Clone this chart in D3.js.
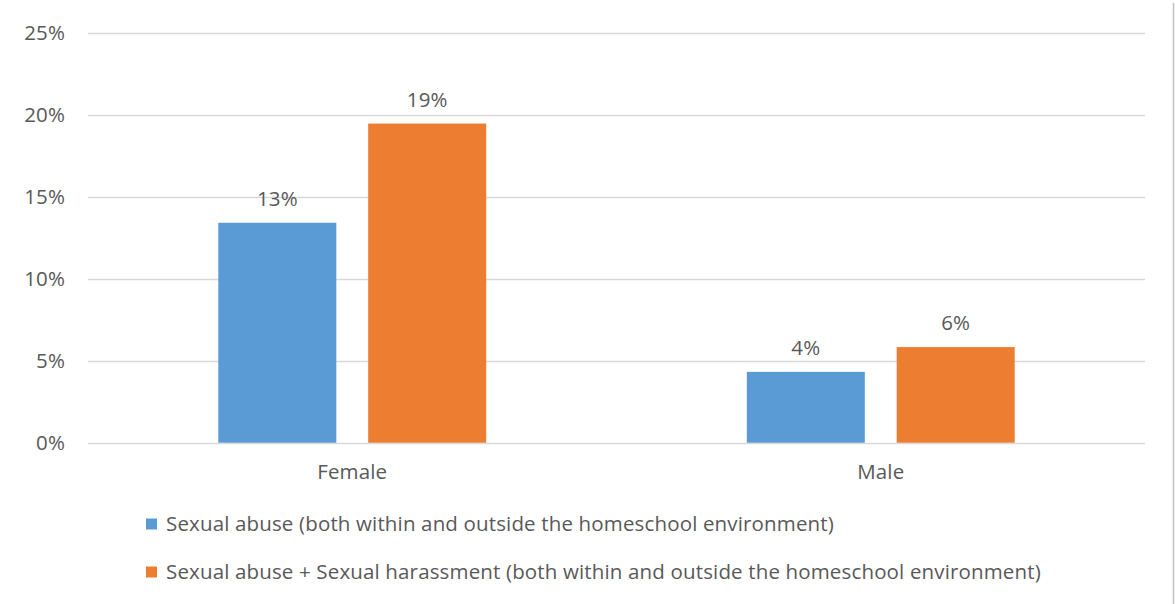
<!DOCTYPE html>
<html>
<head>
<meta charset="utf-8">
<script src="https://cdn.jsdelivr.net/npm/d3@7"></script>
<style>
  html, body { margin: 0; padding: 0; background: #ffffff; }
  svg { display: block; }
  svg text { font-family: "Open Sans", "Noto Sans", sans-serif; letter-spacing: 0.15px; }
</style>
</head>
<body>
<svg id="chart" width="1175" height="604"></svg>
<script>
// Categories and series
const categories = ["Female", "Male"];
const seriesNames = [
  "Sexual abuse (both within and outside the homeschool environment)",
  "Sexual abuse + Sexual harassment (both within and outside the homeschool environment)"
];
const sexualAbuse = [0.1341, 0.0432];
const abuseAndHarassment = [0.1946, 0.0583];
const yTicks = [0, 0.05, 0.10, 0.15, 0.20, 0.25];

const colors = ["#5B9BD5", "#ED7D31"];
const textColor = "#595959";
const fontSize = "20.5px";

const svg = d3.select("#chart");
const margin = { top: 33, left: 88, right: 30, bottom: 162 };
const W = 1175, H = 604;

const x = d3.scaleBand()
  .domain(categories)
  .range([margin.left, W - margin.right]);

const y = d3.scaleLinear()
  .domain([0, 0.25])
  .range([H - margin.bottom + 0.7, margin.top - 0.3]);

// Grouped bar layout inside each category band
const barW = x.bandwidth() * 0.2233;
const barGap = barW * 0.27;
const groupW = barW * 2 + barGap;

// Gridlines
svg.append("g")
  .selectAll("line")
  .data(yTicks)
  .join("line")
  .attr("x1", margin.left)
  .attr("x2", W - margin.right)
  .attr("y1", d => Math.round(y(d)) + 0.5)
  .attr("y2", d => Math.round(y(d)) + 0.5)
  .attr("stroke", "#D9D9D9")
  .attr("stroke-width", 1.3);

// Y axis labels
const yAxis = d3.axisLeft(y)
  .tickValues(yTicks)
  .tickFormat(d3.format(".0%"))
  .tickSize(0)
  .tickPadding(0);
const yg = svg.append("g")
  .attr("transform", `translate(65,0)`)
  .call(yAxis);
yg.attr("font-family", null).attr("font-size", null);
yg.select(".domain").remove();
yg.selectAll("text")
  .attr("fill", textColor)
  .style("font-size", fontSize);

// X axis labels
const xAxis = d3.axisBottom(x).tickSize(0).tickPadding(0);
const xg = svg.append("g")
  .attr("transform", `translate(0,${y(0)})`)
  .call(xAxis);
xg.attr("font-family", null).attr("font-size", null);
xg.select(".domain").remove();
xg.selectAll("text")
  .attr("fill", textColor)
  .attr("dy", null)
  .attr("y", 36)
  .style("font-size", fontSize);

const series = [sexualAbuse, abuseAndHarassment];
const groups = svg.append("g")
  .selectAll("g")
  .data(categories)
  .join("g")
  .attr("transform", d => `translate(${x(d) + (x.bandwidth() - groupW) / 2},0)`);

groups.each(function (cat, ci) {
  const g = d3.select(this);
  const data = series.map((s, si) => ({ si, v: s[ci] }));
  g.selectAll("rect")
    .data(data)
    .join("rect")
    .attr("x", d => d.si * (barW + barGap))
    .attr("width", barW)
    .attr("y", d => y(d.v))
    .attr("height", d => y(0) - y(d.v))
    .attr("fill", d => colors[d.si]);
  g.selectAll("text")
    .data(data)
    .join("text")
    .attr("x", d => d.si * (barW + barGap) + barW / 2)
    .attr("y", d => y(d.v) - 17)
    .attr("text-anchor", "middle")
    .attr("fill", textColor)
    .style("font-size", fontSize)
    .text(d => d3.format(".0%")(d.v));
});

// Legend
const legend = svg.append("g")
  .selectAll("g")
  .data(seriesNames)
  .join("g")
  .attr("transform", (d, i) => `translate(146,${524 + i * 48})`);
legend.append("rect")
  .attr("x", 0).attr("y", -5.5)
  .attr("width", 11).attr("height", 11)
  .attr("fill", (d, i) => colors[i]);
legend.append("text")
  .attr("x", 20)
  .attr("y", 0)
  .attr("dy", "0.35em")
  .attr("fill", textColor)
  .style("font-size", fontSize)
  .text(d => d);

// Right frame edge
svg.append("line")
  .attr("x1", 1173.5).attr("x2", 1173.5)
  .attr("y1", 3).attr("y2", H)
  .attr("stroke", "#BFBFBF")
  .attr("stroke-width", 1.5);
</script>
</body>
</html>
